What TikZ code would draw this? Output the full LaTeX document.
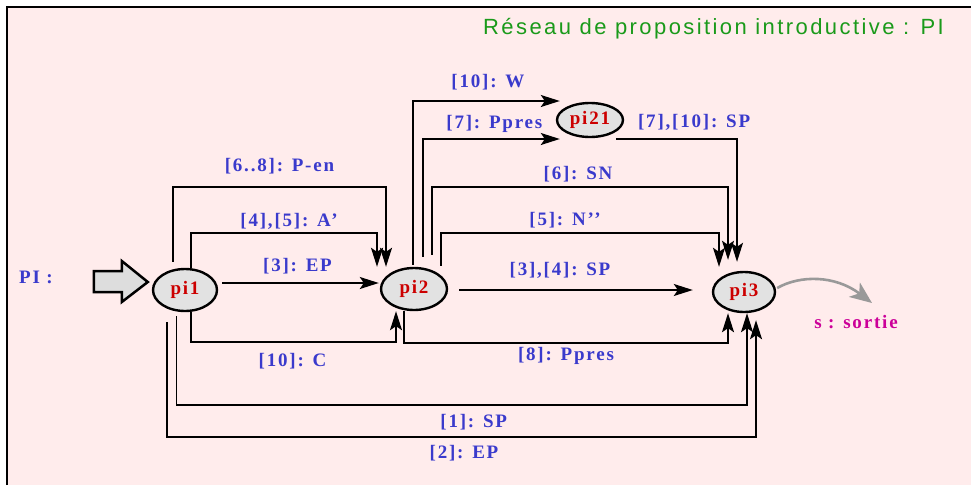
\documentclass[tikz,border=0pt]{standalone}
\usepackage{fontspec}
\setmainfont{Liberation Serif}
\newfontfamily\lblfont{Liberation Serif}[LetterSpace=9.5]
\newfontfamily\titlefont{Liberation Sans}[LetterSpace=11]
\usepackage{tikz}
\usetikzlibrary{arrows.meta,calc,shapes.geometric}
\definecolor{bg}{HTML}{FFECEC}
\definecolor{lblblue}{HTML}{3A3ACC}
\definecolor{nodered}{HTML}{CC0000}
\definecolor{nodegray}{HTML}{E2E2E2}
\definecolor{sortiepink}{HTML}{CC0099}
\definecolor{titlegreen}{HTML}{1A9A1A}
\definecolor{exitgray}{HTML}{999999}
\definecolor{entrygray}{HTML}{DDDDDD}
\tikzset{state/.style={ellipse,draw=black,line width=2.4pt,fill=nodegray,inner sep=0pt,minimum width=64pt,minimum height=42pt,font=\lblfont\bfseries\fontsize{19}{22}\selectfont,text=nodered},link/.style={draw=black,line width=1.5pt,-{Stealth[length=19pt,width=12pt,inset=4pt]}},lbl/.style={font=\lblfont\bfseries\fontsize{19}{22}\selectfont,text=lblblue,inner sep=0pt,text height=13.7pt,text depth=3.4pt},exit/.style={draw=exitgray,line width=2.6pt,-{Stealth[length=22pt,width=18pt,inset=6pt]}},entry/.style={draw=black,line width=2.5pt,fill=entrygray,line join=miter}}
\begin{document}
\begin{tikzpicture}[x=1pt,y=-1pt]
 \useasboundingbox (0,0) rectangle (971,485);
 \fill[white] (0,0) rectangle (971,485); \fill[bg] (7,7) rectangle (971,485);
 \draw[line width=2pt] (7,485) -- (7,7) -- (971,7);
 \node[anchor=base east,inner sep=0pt,font=\titlefont\fontsize{22}{26}\selectfont,text=titlegreen] (title) at (944,34) {Réseau de proposition introductive : PI};
 \node[state] (pi1) at (185,290) {pi1};
 \node[state,minimum width=66pt] (pi2) at (414,289) {pi2};
 \node[state,minimum width=66pt,minimum height=34pt] (pi21) at (590,120) {pi21};
 \node[state,minimum width=62pt,minimum height=40pt] (pi3) at (744,292) {pi3};
 \node[lbl] (pilabel) at (36,278) {PI :};
 \node[lbl,text=sortiepink] (sortie) at (856,323) {s : sortie};
 \coordinate (intip) at ($(pi1.west)+(-4,-8)$);
 \draw[entry] (intip) -- ++(-26,-21) -- ++(0,10) -- ++(-28,0) -- ++(0,21) -- ++(28,0) -- ++(0,10) -- cycle;
 \draw[link] ($(pi1.north)+(-12,-6)$) |- node[lbl,pos=.75,yshift=20pt]{[6..8]: P-en} ($(pi2.north)+(-28,-80)$) -- ($(pi2.north)+(-28,0)$);
 \draw[link] ($(pi1.north)+(6,0)$) |- node[lbl,pos=.75,yshift=11pt,xshift=5pt]{[4],[5]: A’} ($(pi2.north)+(-37,-34)$) -- ($(pi2.north)+(-37,0)$);
 \draw[link] ($(pi1.east)+(4,-7)$) -- node[lbl,yshift=17pt,xshift=-3pt]{[3]: EP} ($(pi2.west)+(-1,-6)$);
 \draw[link] ($(pi1.south)+(6,0)$) |- node[lbl,pos=.75,yshift=-19pt,xshift=-1pt]{[10]: C} ($(pi2.south)+(-18,31)$) -- ($(pi2.south)+(-18,0)$);
 \draw[link] ($(pi1.south)+(-8.5,4)$) |- node[lbl,pos=.75,yshift=-17pt,xshift=12pt]{[1]: SP} ($(pi3.south)+(3,92)$) -- ($(pi3.south)+(3,0)$);
 \draw[link] ($(pi1.south)+(-18,10)$) |- node[lbl,pos=.75,yshift=-16pt,xshift=2.5pt]{[2]: EP} ($(pi3.south)+(12,124)$) -- ($(pi3.south)+(12,7)$);
 \draw[link] ($(pi2.south)+(-10,0)$) |- node[lbl,pos=.75,yshift=-12pt]{[8]: Ppres} ($(pi3.south)+(-16,30)$) -- ($(pi3.south)+(-16,0)$);
 \draw[link] ($(pi2.east)+(11,1)$) -- node[lbl,yshift=20pt,xshift=-16pt]{[3],[4]: SP} ($(pi3.west)+(-19,-2)$);
 \draw[link] ($(pi2.north)+(-1,-2)$) |- node[lbl,pos=.75,yshift=19pt,xshift=1.5pt]{[10]: W} ($(pi21.west)+(4,-19)$);
 \draw[link] ($(pi2.north)+(9,-10)$) |- node[lbl,pos=.75,yshift=16pt,xshift=3pt]{[7]: Ppres} ($(pi21.west)+(4,19)$);
 \draw[link] ($(pi2.north)+(18,-12)$) |- node[lbl,pos=.75,yshift=12pt,xshift=-2pt]{[6]: SN} ($(pi3.north)+(-16,-84)$) -- ($(pi3.north)+(-16,-11)$);
 \draw[link] ($(pi2.north)+(27,-1)$) |- node[lbl,pos=.75,yshift=12.6pt,xshift=-15pt]{[5]: N’’} ($(pi3.north)+(-25,-38)$) -- ($(pi3.north)+(-25,-4)$);
 \draw[link] ($(pi21.east)+(-8,19)$) -| node[lbl,pos=.25,yshift=16.6pt,xshift=17.5pt]{[7],[10]: SP} ($(pi3.north)+(-7,-9)$);
 \coordinate (outtip) at (872,303);
 \draw[exit] ($(pi3.east)+(1,-4)$) .. controls (800,275) and (835,275) .. (outtip);
\end{tikzpicture}
\end{document}
